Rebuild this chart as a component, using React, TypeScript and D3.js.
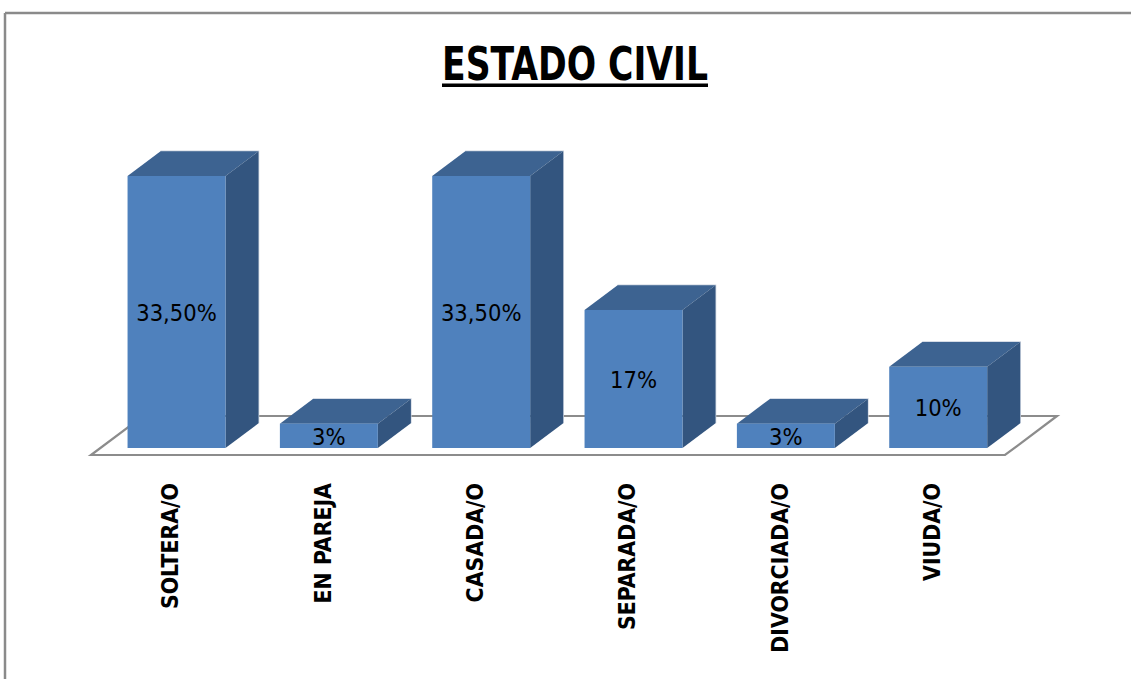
import React from "react";
import * as d3 from "d3";

const categories = ["SOLTERA/O", "EN PAREJA", "CASADA/O", "SEPARADA/O", "DIVORCIADA/O", "VIUDA/O"];
const values = [33.5, 3, 33.5, 17, 3, 10];
const valueLabels = ["33,50%", "3%", "33,50%", "17%", "3%", "10%"];
const title = "ESTADO CIVIL";

const W = 1131;
const H = 679;
const FONT = "'Liberation Sans Narrow', 'DejaVu Sans Condensed', 'Open Sans', sans-serif";

export default function App() {
  // floor geometry
  const floorX0 = 91, floorX1 = 1005, floorY = 455;
  const floorDx = 52, floorDy = -39;
  const f0 = 0.18, f1 = 0.815;
  const offX = floorDx * f0, offY = floorDy * f0;
  const depX = floorDx * (f1 - f0), depY = floorDy * (f1 - f0);

  const x = d3.scaleBand<string>().domain(categories).range([floorX0, floorX1]).paddingInner(0.357).paddingOuter(0.357 / 2);
  const y = d3.scaleLinear().domain([0, 33.5]).range([448, 176]);
  const baseY = y(0);

  const floorPath = d3.path();
  floorPath.moveTo(floorX0, floorY);
  floorPath.lineTo(floorX1, floorY);
  floorPath.lineTo(floorX1 + floorDx, floorY + floorDy);
  floorPath.lineTo(floorX0 + floorDx, floorY + floorDy);
  floorPath.closePath();

  const bw = x.bandwidth();

  return (
    <svg width={W} height={H} style={{ position: "absolute", left: 0, top: 0, background: "#fff" }}>
      {/* frame */}
      <line x1={5} y1={13} x2={W} y2={13} stroke="#8a8a8a" strokeWidth={2.5} />
      <line x1={5} y1={13} x2={5} y2={H} stroke="#8a8a8a" strokeWidth={2.5} />

      {/* title */}
      <text x={575} y={80} textAnchor="middle" fontFamily={FONT} fontWeight="bold" fontSize={46}
        textLength={266} lengthAdjust="spacingAndGlyphs" fill="#000">{title}</text>
      <rect x={442} y={83.5} width={266} height={3.5} fill="#000" />

      {/* floor */}
      <path d={floorPath.toString()} fill="#fff" stroke="#8c8c8c" strokeWidth={2.2} strokeLinejoin="miter" />

      {/* bars */}
      {categories.map((c, i) => {
        const x0 = (x(c) as number) + offX;
        const x1 = x0 + bw;
        const yb = baseY;
        const yt = y(values[i]);
        const top = `M${x0},${yt}L${x1},${yt}L${x1 + depX},${yt + depY}L${x0 + depX},${yt + depY}Z`;
        const side = `M${x1},${yt}L${x1 + depX},${yt + depY}L${x1 + depX},${yb + depY}L${x1},${yb}Z`;
        return (
          <g key={c}>
            <path d={`M${x0 + depX},${yt + depY}L${x1 + depX},${yt + depY}L${x1 + depX},${yb + depY}`} fill="none" stroke="#c9d1de" strokeWidth={1.5} />
            <path d={top} fill="#3d6391" />
            <path d={side} fill="#33557f" />
            <rect x={x0} y={yt} width={bw} height={yb - yt} fill="#4f81bd" />
            <text x={x0 + bw / 2} y={(yt + yb) / 2 + 1} textAnchor="middle" dominantBaseline="central"
              fontFamily={FONT} fontSize={23.5} fill="#000">{valueLabels[i]}</text>
          </g>
        );
      })}

      {/* category labels */}
      {categories.map((c) => {
        const cx = (x(c) as number) + bw / 2 + 3;
        return (
          <text key={c} transform={`translate(${cx},483) rotate(-90)`} textAnchor="end" dominantBaseline="central"
            fontFamily={FONT} fontWeight="bold" fontSize={22.8} fill="#000">{c}</text>
        );
      })}
    </svg>
  );
}
